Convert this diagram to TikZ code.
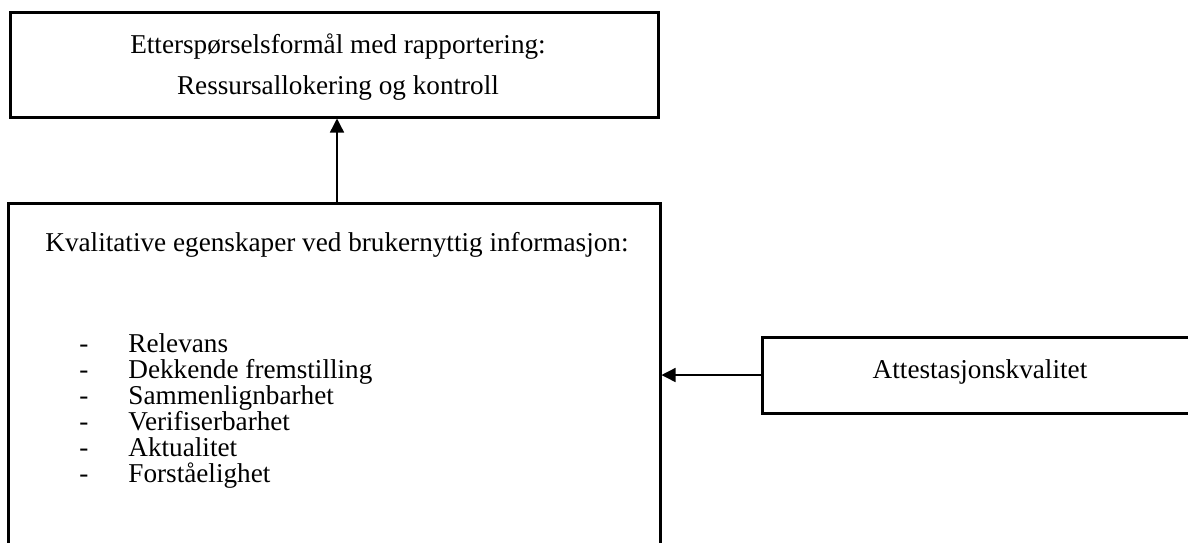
\documentclass[tikz,border=0pt]{standalone}
\usepackage{fontspec}
\setmainfont{Liberation Serif}
\usetikzlibrary{arrows.meta}
\begin{document}
\begin{tikzpicture}[x=0.5pt,y=-0.5pt,
  box/.style={draw,line width=1.5pt,minimum width=#1,inner sep=0pt},
  txt/.style={font=\fontsize{13.6}{20.5}\selectfont,inner sep=0pt},
  arr/.style={line width=0.7pt,-{Triangle[length=7pt,width=7pt]}}]
\useasboundingbox (0,0) rectangle (1188,542);
\clip (0,0) rectangle (1188,542);
\node[box=324pt,minimum height=52.5pt] (top) at (334,64.5) {};
\node[box=326pt,minimum height=178.5pt] (bot) at (334,381.5) {};
\node[box=214pt,minimum height=38pt] (att) at (976,375) {};
\node[txt,align=center] (toptxt) at (338,67.5) {Etterspørselsformål med rapportering:\\Ressursallokering og kontroll};
\node[txt,anchor=base west] (head) at (45,251) {Kvalitative egenskaper ved brukernyttig informasjon:};
\foreach \t [count=\i] in {Relevans,Dekkende fremstilling,Sammenlignbarhet,Verifiserbarhet,Aktualitet,Forståelighet}{
  \node[txt,anchor=base] (d\i) at (84,{326+26*\i}) {-};
  \node[txt,anchor=base west] (it\i) at (128,{326+26*\i}) {\t};
}
\node[txt,anchor=base] (atttxt) at (980,378) {Attestasjonskvalitet};
\coordinate (ax) at (337,0);
\draw[arr] (bot.north -| ax) -- (top.south -| ax);
\draw[arr] (att.west) -- (att.west -| bot.east);
\end{tikzpicture}
\end{document}
